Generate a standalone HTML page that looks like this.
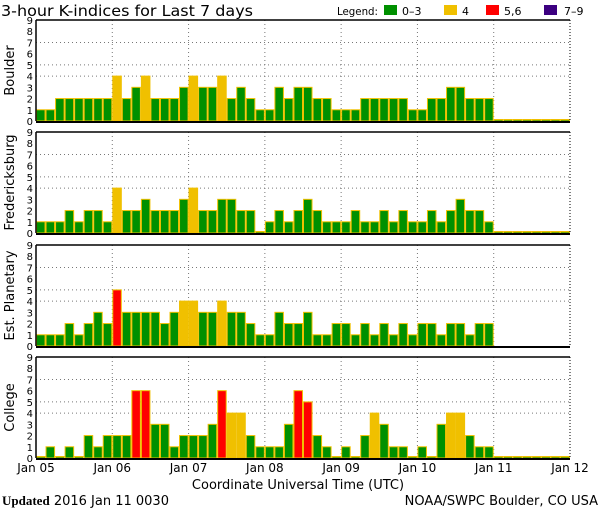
<!DOCTYPE html>
<html><head><meta charset="utf-8"><style>
body{margin:0;background:#fff;}
svg{display:block;font-family:"DejaVu Sans","Liberation Sans",sans-serif;}
</style></head><body>
<svg id="chart" width="600" height="510">
<text x="1" y="16" font-size="15" textLength="252" lengthAdjust="spacingAndGlyphs">3-hour K-indices for Last 7 days</text>
<g font-size="11">
<text x="337" y="15" textLength="41" lengthAdjust="spacingAndGlyphs">Legend:</text>
<rect x="384" y="5" width="13" height="10" fill="#009000"/>
<text x="402" y="15">0–3</text>
<rect x="444" y="5" width="13" height="10" fill="#F0C000"/>
<text x="462" y="15">4</text>
<rect x="486" y="5" width="13" height="10" fill="#FF0000"/>
<text x="504" y="15">5,6</text>
<rect x="544" y="5" width="13" height="10" fill="#3C0080"/>
<text x="564" y="15">7–9</text>
</g>
<g id="panels"></g>
<text x="298" y="489" font-size="13" text-anchor="middle">Coordinate Universal Time (UTC)</text>
<text x="2" y="505" font-size="13" font-family="Liberation Serif,serif"><tspan font-weight="bold">Updated</tspan><tspan font-family="DejaVu Sans,sans-serif"> 2016 Jan 11 0030</tspan></text>
<text x="598" y="505" font-size="13" text-anchor="end">NOAA/SWPC Boulder, CO USA</text>
</svg>
<script>
const dayLabels = ["Jan 05","Jan 06","Jan 07","Jan 08","Jan 09","Jan 10","Jan 11","Jan 12"];
const stations = ["Boulder","Fredericksburg","Est. Planetary","College"];
const boulder = [1,1,2,2,2,2,2,2, 4,2,3,4,2,2,2,3, 4,3,3,4,2,3,2,1, 1,3,2,3,3,2,2,1, 1,1,2,2,2,2,2,1, 1,2,2,3,3,2,2,2, 0,0,0,0,0,0,0,0];
const fredericksburg = [1,1,1,2,1,2,2,1, 4,2,2,3,2,2,2,3, 4,2,2,3,3,2,2,0, 1,2,1,2,3,2,1,1, 1,2,1,1,2,1,2,1, 1,2,1,2,3,2,2,1, 0,0,0,0,0,0,0,0];
const estPlanetary = [1,1,1,2,1,2,3,2, 5,3,3,3,3,2,3,4, 4,3,3,4,3,3,2,1, 1,3,2,2,3,1,1,2, 2,1,2,1,2,1,2,1, 2,2,1,2,2,1,2,2, null,null,null,null,null,null,null,null];
const college = [0,1,0,1,0,2,1,2, 2,2,6,6,3,3,1,2, 2,2,3,6,4,4,2,1, 1,1,3,6,5,2,1,0, 1,0,2,4,3,1,1,0, 1,0,3,4,4,2,1,1, 0,0,0,0,0,0,0,0];
const series = [boulder, fredericksburg, estPlanetary, college];
const yTicks = [0,1,2,3,4,5,6,7,8,9];

const NS="http://www.w3.org/2000/svg";
const X0=36, X1=570, PH=101, tops=[20,132,245,357];
const nBars=56, bw=(X1-X0)/nBars;
const xs = i => X0 + i*bw;
function mk(tag, attrs, parent){const e=document.createElementNS(NS,tag);for(const k in attrs)e.setAttribute(k,attrs[k]);parent.appendChild(e);return e;}
function color(v){return v>=7?"#3C0080":v>=5?"#FF0000":v>=4?"#F0C000":"#009000";}
const root=document.getElementById("panels");
series.forEach((data,p)=>{
  const top=tops[p], bot=top+PH;
  const ys = v => bot - v*(PH/9);
  const g=mk("g",{},root);
  
  
  [4,5,7].forEach(v=>{
    const l=mk("line",{x1:X0,x2:X1,y1:ys(v),y2:ys(v),stroke:"#777","stroke-dasharray":"1,3"},g);
    
    
  });
  for(let d=1;d<7;d++){
    const l=mk("line",{x1:xs(d*8),x2:xs(d*8),y1:top,y2:bot,stroke:"#777","stroke-dasharray":"1,3"},g);
    
    
  }
  data.forEach((v,i)=>{
    if(v===null) return;
    const h=Math.max(ys(0)-ys(v),1.5);
    const r=mk("rect",{x:xs(i)+0.5,y:bot-h,width:bw-1,height:h,fill:color(v),stroke:"#F0C000","stroke-width":1},g);
    
    
  });
  mk("line",{x1:X0,x2:X1,y1:top,y2:top,stroke:"#000","stroke-width":1.5},g);
  mk("line",{x1:X0,x2:X0,y1:top,y2:bot,stroke:"#000","stroke-width":1.5},g);
  mk("line",{x1:X1,x2:X1,y1:top,y2:bot,stroke:"#000","stroke-dasharray":"1,2"},g);
  mk("line",{x1:X0,x2:X1,y1:bot+1,y2:bot+1,stroke:"#000","stroke-width":2},g);
  yTicks.forEach(t=>{
    const tx=mk("text",{x:X0-3,y:ys(t)+4,"font-size":"10","text-anchor":"end"},g);
    tx.textContent=t;
    
    
  });
  const cy=top+PH/2;
  const lab=mk("text",{x:14,y:cy,"font-size":"13","text-anchor":"middle",transform:`rotate(-90 14 ${cy})`},g);
  lab.textContent=stations[p];
  
  
});
const svg=document.getElementById("chart");
dayLabels.forEach((d,i)=>{
  const t=mk("text",{x:xs(i*8),y:472,"font-size":"12","text-anchor":"middle"},svg);
  t.textContent=d;
  
  
});
</script>
</body></html>
